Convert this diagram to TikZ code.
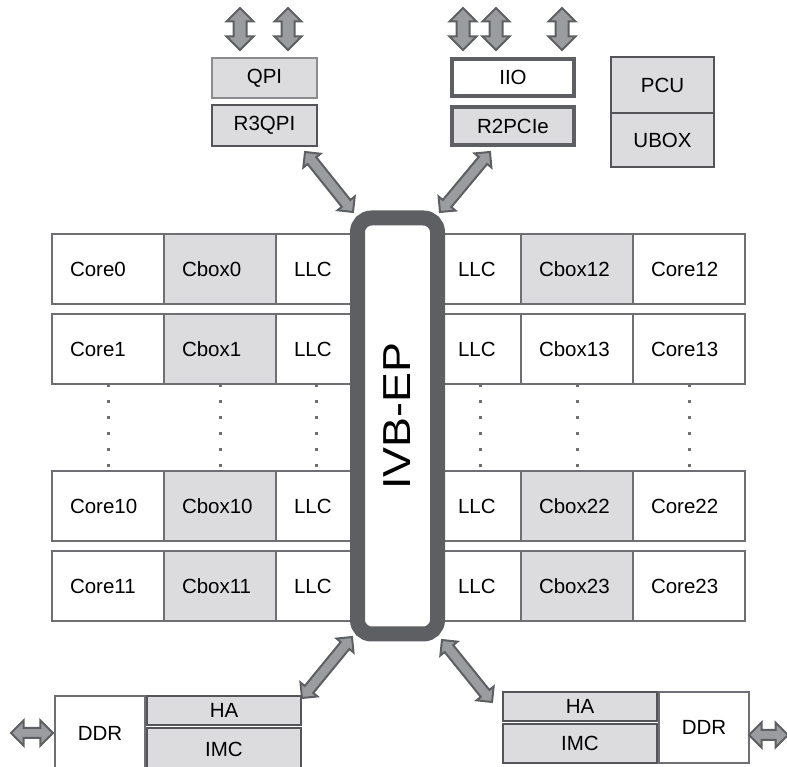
\documentclass[tikz,border=0pt]{standalone}
\usepackage{fontspec}
\setmainfont{Liberation Sans}
\usepackage{xcolor}
\usetikzlibrary{positioning,shapes.arrows,calc}

\definecolor{boxline}{RGB}{110,111,114}
\definecolor{boxfill}{RGB}{220,220,222}
\definecolor{darkline}{RGB}{84,85,89}
\definecolor{ringline}{RGB}{94,95,99}
\definecolor{arrfill}{RGB}{155,156,159}

\newcommand{\cellfont}{\fontsize{20.5}{24}\selectfont}
% fat double arrow from coordinate #2 to coordinate #3, style #1
\newcommand{\fatarrow}[3][]{%
  \path let \p1=($(#3)-(#2)$), \n1={veclen(\x1,\y1)}, \n2={atan2(\y1,\x1)} in
    node[fatarr, #1, minimum height=\n1, rotate=\n2] at ($(#2)!0.5!(#3)$) {};}

\begin{document}
\begin{tikzpicture}[
  x=1pt, y=1pt,
  font=\cellfont,
  cell/.style={rectangle, draw=boxline, line width=1.5pt, minimum height=70pt,
               inner ysep=0pt, inner xsep=18pt, outer sep=0pt, align=left},
  core/.style={cell, minimum width=112pt, text width=76pt, fill=white},
  cbox/.style={cell, minimum width=112pt, text width=76pt, fill=boxfill},
  llc/.style={cell, minimum width=81pt, text width=45pt, fill=white},
  unit/.style={rectangle, fill=boxfill, draw=darkline, line width=1.5pt,
               inner sep=0pt, outer sep=0pt},
  iobox/.style={unit, draw=ringline, line width=4pt, minimum width=122pt, minimum height=37pt},
  membox/.style={unit, line width=2.5pt, minimum width=154pt},
  ddr/.style={unit, fill=white, draw=boxline, minimum width=90pt},
  ring/.style={rectangle, draw=ringline, line width=15pt, rounded corners=14pt,
               fill=white, inner sep=0pt, outer sep=0pt},
  dots/.style={boxline, line width=3pt, dash pattern=on 3pt off 13pt},
  fatarr/.style={double arrow, draw=ringline, fill=arrfill, line width=2pt,
                 double arrow tip angle=90, double arrow head extend=7pt,
                 inner xsep=0pt, inner ysep=5.5pt, minimum width=1pt},
]
\useasboundingbox (0,0) rectangle (787,767);

% slices: left half and right half
\foreach \r/\ya/\lc/\rc/\rfill in {0/498/0/12/boxfill, 1/418/1/13/white,
                                   10/261/10/22/boxfill, 11/181/11/23/boxfill} {
  \node[core] (cl\r) at (108,\ya) {Core\lc};
  \node[cbox, right=0pt of cl\r] (bl\r) {Cbox\lc};
  \node[llc, right=0pt of bl\r] (ll\r) {LLC};
  \node[core] (cr\r) at (689,\ya) {Core\rc};
  \node[cbox, fill=\rfill, left=0pt of cr\r] (br\r) {Cbox\rc};
  \node[llc, left=0pt of br\r] (lr\r) {LLC};
}
\foreach \c in {cl,bl,ll,cr,br,lr}
  \draw[dots] (\c1.south) -- (\c10.north);

% ring
\node[ring, minimum width=80pt, minimum height=416pt] (ring) at (397.5,341) {};
\node[rotate=90, xscale=1.15, font=\fontsize{39}{40}\selectfont] (ivb)
  at ($(ring.center)+(0,10)$) {IVB-EP};

% uncore, top
\node[unit, draw=boxline!80, minimum width=105pt, minimum height=40pt] (qpi) at (264.5,689) {QPI};
\node[unit, line width=2pt, minimum width=105pt, minimum height=41pt, below=7pt of qpi] (r3qpi) {R3QPI};
\node[iobox, fill=white] (iio) at (513,689.5) {IIO};
\node[iobox, minimum height=38pt, below=11pt of iio] (r2pcie) {R2PCIe};
\node[unit, minimum width=103pt, minimum height=56pt] (pcu) at (662.5,682) {PCU};
\node[unit, minimum width=103pt, minimum height=54pt, below=0pt of pcu] (ubox) {UBOX};

% uncore, bottom
\node[ddr, minimum height=74pt] (ddrl) at (100,34) {DDR};
\node[membox, minimum height=29pt, below right=0pt and 2pt of ddrl.north east] (hal) {HA};
\node[membox, minimum height=42pt, below=3pt of hal] (imcl) {IMC};
\node[membox, minimum height=29pt] (har) at (580,60.5) {HA};
\node[membox, minimum height=39pt, below=3pt of har] (imcr) {IMC};
\node[ddr, minimum height=71pt, below right=0pt and 2pt of har.north east] (ddrr) {DDR};

% links
\foreach \dx [count=\k] in {-24.5,23.5} {
  \coordinate (qa\k) at ($(qpi.north)+(\dx,8)$);
  \coordinate (qb\k) at ($(qpi.north)+(\dx,50)$);
  \fatarrow{qa\k}{qb\k}
}
\foreach \dx [count=\k] in {-50,-17,49} {
  \coordinate (ia\k) at ($(iio.north)+(\dx,9)$);
  \coordinate (ib\k) at ($(iio.north)+(\dx,51)$);
  \fatarrow{ia\k}{ib\k}
}
\coordinate (tl1) at ($(r3qpi.south east)+(-12,-6)$);
\coordinate (tl2) at ($(ring.north west)+(-4.5,6)$);
\coordinate (tr1) at ($(r2pcie.south west)+(38,-7)$);
\coordinate (tr2) at ($(ring.north east)+(2.5,6)$);
\coordinate (bl1) at ($(ring.south west)+(-5.5,-3)$);
\coordinate (bl2) at ($(hal.north east)+(1,-2)$);
\coordinate (br1) at ($(ring.south east)+(4.5,-6)$);
\coordinate (br2) at ($(har.north west)+(-11,-10)$);
\fatarrow[inner ysep=4.5pt, double arrow head extend=5.5pt]{tl1}{tl2}
\fatarrow[inner ysep=4.5pt, double arrow head extend=5.5pt]{tr1}{tr2}
\fatarrow[inner ysep=4.5pt, double arrow head extend=5.5pt]{bl1}{bl2}
\fatarrow[inner ysep=4.5pt, double arrow head extend=5.5pt]{br1}{br2}
\coordinate (dl1) at ($(ddrl.west)+(-44,0)$);
\coordinate (dl2) at ($(ddrl.west)+(-2,0)$);
\coordinate (dr1) at ($(ddrr.east)+(0,-7.5)$);
\coordinate (dr2) at ($(ddrr.east)+(39,-7.5)$);
\fatarrow[inner ysep=4pt, double arrow head extend=7.5pt]{dl1}{dl2}
\fatarrow[inner ysep=4pt, double arrow head extend=7.5pt]{dr1}{dr2}
\end{tikzpicture}
\end{document}
